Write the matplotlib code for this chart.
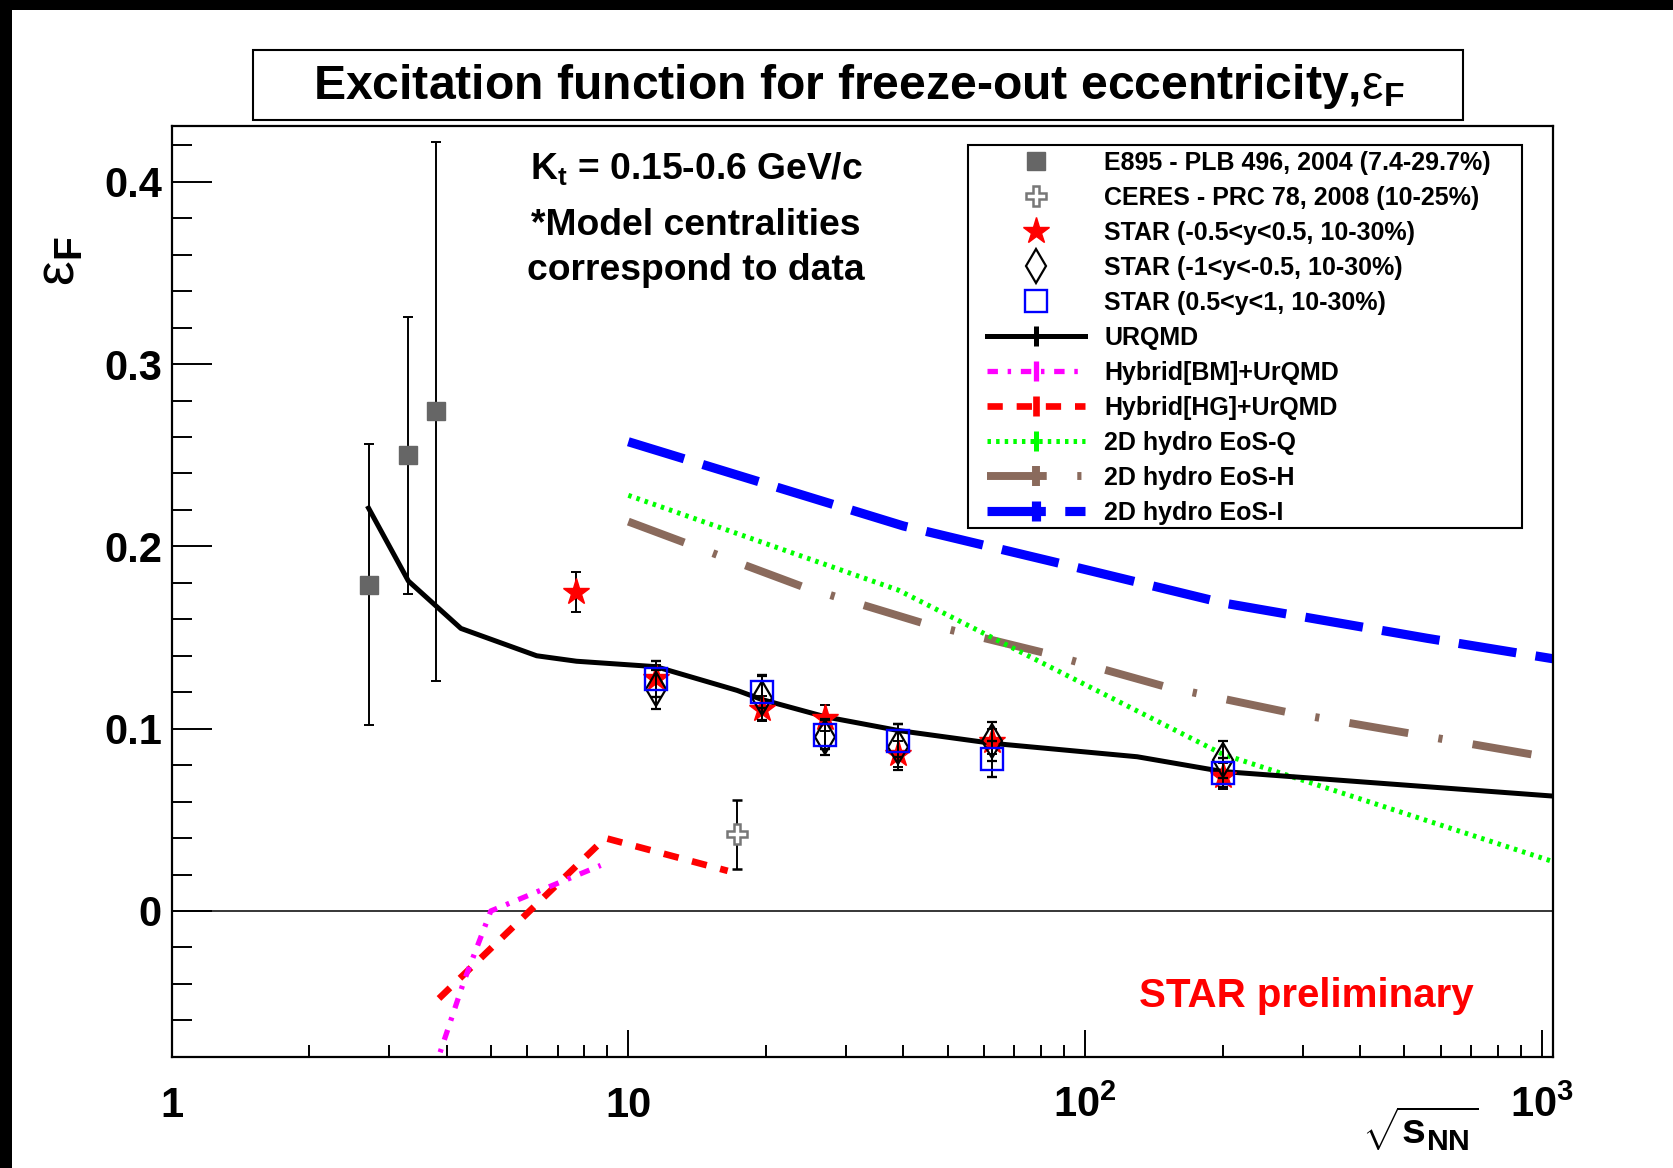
import matplotlib
matplotlib.use('Agg')
import matplotlib.pyplot as plt
from matplotlib.lines import Line2D
from matplotlib.patches import Rectangle
from matplotlib.legend_handler import HandlerTuple
from matplotlib.ticker import FixedLocator, NullFormatter

plt.rcParams['font.family'] = ['Liberation Sans', 'DejaVu Sans']
plt.rcParams['font.weight'] = 'bold'
plt.rcParams['mathtext.fontset'] = 'custom'
plt.rcParams['mathtext.rm'] = 'Liberation Sans:weight=normal'
plt.rcParams['mathtext.bf'] = 'Liberation Sans:weight=bold'
plt.rcParams['mathtext.it'] = 'Liberation Sans:style=italic'
plt.rcParams['lines.scale_dashes'] = False

# ---- data ----
e895_x = [2.7, 3.3, 3.8]
e895_y = [0.179, 0.250, 0.274]
e895_err = [0.077, 0.076, 0.148]

ceres_x = [17.3]
ceres_y = [0.042]
ceres_err = [0.019]

star_x = [7.7, 11.5, 19.6, 27, 39, 62.4, 200]
star_y = [0.175, 0.128, 0.111, 0.106, 0.086, 0.093, 0.074]
star_err = [0.011, 0.007, 0.007, 0.007, 0.007, 0.007, 0.007]

diam_x = [11.5, 19.6, 27, 39, 62.4, 200]
diam_y = [0.1215, 0.117, 0.0955, 0.090, 0.093, 0.083]
diam_err = [0.0105, 0.012, 0.010, 0.0125, 0.0108, 0.0102]

sq_x = [11.5, 19.6, 27, 39, 62.4, 200]
sq_y = [0.1273, 0.1203, 0.0966, 0.0934, 0.0832, 0.0759]
sq_err = [0.010, 0.009, 0.008, 0.009, 0.0099, 0.008]

urqmd_x = [2.7, 3.3, 4.3, 6.3, 7.7, 11.5, 17.3, 19.6, 27, 39, 62.4, 130, 200, 1060]
urqmd_y = [0.221, 0.181, 0.155, 0.140, 0.137, 0.134, 0.121, 0.116, 0.1065, 0.099, 0.092, 0.0846, 0.0765, 0.063]

bm_x = [3.75, 4.36, 5.0, 8.7]
bm_y = [-0.088, -0.039, 0.0, 0.025]

hg_x = [3.85, 8.9, 16.5]
hg_y = [-0.048, 0.040, 0.022]

eosq_x = [10, 39, 200, 1060]
eosq_y = [0.228, 0.176, 0.086, 0.027]

eosh_x = [10, 24, 44, 82, 150, 280, 1000]
eosh_y = [0.2136, 0.178, 0.158, 0.1414, 0.123, 0.1088, 0.0849]

eosi_x = [10, 19.3, 40, 85, 200, 560, 1060]
eosi_y = [0.2574, 0.2355, 0.2112, 0.1916, 0.169, 0.1496, 0.1383]

legend_labels = ['E895 - PLB 496, 2004 (7.4-29.7%)',
                 'CERES - PRC 78, 2008 (10-25%)',
                 'STAR (-0.5<y<0.5, 10-30%)',
                 'STAR (-1<y<-0.5, 10-30%)',
                 'STAR (0.5<y<1, 10-30%)',
                 'URQMD',
                 'Hybrid[BM]+UrQMD',
                 'Hybrid[HG]+UrQMD',
                 '2D hydro EoS-Q',
                 '2D hydro EoS-H',
                 '2D hydro EoS-I']

W, H = 1673, 1168
def fx(p):
    return p / W
def fy(p):
    return 1 - p / H

fig = plt.figure(figsize=(W / 100, H / 100), dpi=100)
fig.patch.set_facecolor('white')
ax = fig.add_axes([fx(171.5), fy(1057), fx(1553 - 171.5), (1057 - 126) / H])

# line styles
s_urqmd = dict(color='black', lw=3.6, ls='-')
s_bm = dict(color='#ff00ff', lw=3.8, ls=(0, (7.5, 7, 2.5, 7)))
s_hg = dict(color='#ff0000', lw=4.8, ls=(0, (11, 10)))
s_q = dict(color='#00ff00', lw=3.6, ls=(0, (2.5, 3.7)))
s_h = dict(color='#8a6a5c', lw=5.7, ls=(0, (43, 22, 3, 22)))
s_i = dict(color='#0000ff', lw=6.6, ls=(0, (42, 14)))

ax.axhline(0, color='black', lw=1.1, zorder=1)

ax.plot(eosi_x, eosi_y, **s_i, zorder=2)
ax.plot(eosh_x, eosh_y, **s_h, zorder=2)
ax.plot(eosq_x, eosq_y, **s_q, zorder=2)
ax.plot(hg_x, hg_y, **s_hg, zorder=2)
ax.plot(bm_x, bm_y, **s_bm, zorder=2)
ax.plot(urqmd_x, urqmd_y, **s_urqmd, zorder=3)

eb = dict(ecolor='black', elinewidth=1.4, capsize=3.5, capthick=1.4, ls='none')
ax.errorbar(e895_x, e895_y, yerr=e895_err, fmt='s', color='#666666', ms=13.5, zorder=4, **eb)
ax.errorbar(ceres_x, ceres_y, yerr=ceres_err, fmt='P', mfc='white', mec='#777777',
            mew=1.8, ms=15, zorder=4, **eb)
ax.errorbar(star_x, star_y, yerr=star_err, fmt='*', color='red', ms=20, zorder=4, **eb)
ax.errorbar(diam_x, diam_y, yerr=diam_err, fmt='d', mfc='none', mec='black', mew=1.6,
            ms=17.5, zorder=5, **eb)
ax.errorbar(sq_x, sq_y, yerr=sq_err, fmt='s', mfc='none', mec='#0000ff', mew=1.7,
            ms=16.5, zorder=6, **eb)

ax.set_xscale('log')
ax.set_xlim(1, 1057)
ax.set_ylim(-0.0801, 0.4306)

ax.xaxis.set_major_locator(FixedLocator([1, 10, 100, 1000]))
ax.set_xticklabels(['1', '10', r'$\mathbf{10^{2}}$', r'$\mathbf{10^{3}}$'], va='baseline')
minor_x = [m * 10 ** d for d in range(0, 3) for m in range(2, 10)]
ax.xaxis.set_minor_locator(FixedLocator(minor_x))
ax.xaxis.set_minor_formatter(NullFormatter())

ax.set_yticks([0, 0.1, 0.2, 0.3, 0.4])
ax.set_yticklabels(['0', '0.1', '0.2', '0.3', '0.4'])
ax.yaxis.set_minor_locator(FixedLocator([-0.08 + 0.02 * i for i in range(26)]))

ax.tick_params(axis='x', which='major', direction='in', length=19.4, width=1.4,
               labelsize=30, pad=43, top=False)
ax.tick_params(axis='x', which='minor', direction='in', length=8.6, width=1.4, top=False)
ax.tick_params(axis='y', which='major', direction='in', length=28.8, width=1.4,
               labelsize=30, pad=7, right=False)
ax.tick_params(axis='y', which='minor', direction='in', length=14.4, width=1.4, right=False)
for sp in ax.spines.values():
    sp.set_linewidth(1.6)

# legend
handles = [
    Line2D([], [], ls='none', marker='s', color='#666666', ms=13.5),
    Line2D([], [], ls='none', marker='P', mfc='white', mec='#777777', mew=1.8, ms=15),
    Line2D([], [], ls='none', marker='*', color='red', ms=20),
    Line2D([], [], ls='none', marker='d', mfc='none', mec='black', mew=1.6, ms=17.5),
    Line2D([], [], ls='none', marker='s', mfc='none', mec='#0000ff', mew=1.7, ms=16.5),
]
for st in [s_urqmd, s_bm, s_hg, s_q, s_h, s_i]:
    tick = Line2D([], [], ls='none', marker='|', ms=14, mew=st['lw'], color=st['color'])
    handles.append((Line2D([], [], **st), tick))

ax.add_patch(Rectangle((fx(968), fy(528)), fx(1522 - 968), (528 - 145) / H,
                       transform=fig.transFigure, facecolor='white', edgecolor='black',
                       lw=1.5, zorder=7, clip_on=False))
leg = ax.legend(handles, legend_labels, loc='upper left',
                bbox_to_anchor=(fx(987), fy(151)), bbox_transform=fig.transFigure,
                frameon=False, borderpad=0, borderaxespad=0, handlelength=3.92,
                handletextpad=0.76, labelspacing=0.44, fontsize=18, numpoints=1,
                handler_map={tuple: HandlerTuple(ndivide=1, pad=0)})
leg.set_zorder(8)

# frame decorations
fig.patches.append(Rectangle((0, 0), fx(12), 1, transform=fig.transFigure,
                             facecolor='black', edgecolor='none'))
fig.patches.append(Rectangle((0, fy(10)), 1, 10 / H, transform=fig.transFigure,
                             facecolor='black', edgecolor='none'))
fig.patches.append(Rectangle((fx(253), fy(120)), fx(1463 - 253), 70 / H,
                             transform=fig.transFigure, facecolor='white',
                             edgecolor='black', lw=1.5))

fig.text(fx(859), fy(99), 'Excitation function for freeze-out eccentricity,'
         + r'$\mathrm{ε}_{\mathbf{F}}$', fontsize=34.7, ha='center', va='baseline')

fig.text(fx(696), fy(179), r'K$_{\mathbf{t}}$ = 0.15-0.6 GeV/c', fontsize=26.8,
         ha='center', va='baseline')
fig.text(fx(696), fy(235), '*Model centralities', fontsize=26.8, ha='center', va='baseline')
fig.text(fx(696), fy(280), 'correspond to data', fontsize=26.8, ha='center', va='baseline')

fig.text(fx(1139), fy(1007), 'STAR preliminary', color='#ff0000', fontsize=29,
         ha='left', va='baseline')

fig.text(fx(60), fy(261), r'$\mathrm{ε}_{\mathbf{F}}$', fontsize=40, rotation=90,
         ha='center', va='center')
fig.text(fx(1478), fy(1104), r'$\sqrt{\mathbf{s}_{\mathbf{NN}}}$', fontsize=31,
         ha='right', va='top')

fig.savefig('out.png', dpi=100)
